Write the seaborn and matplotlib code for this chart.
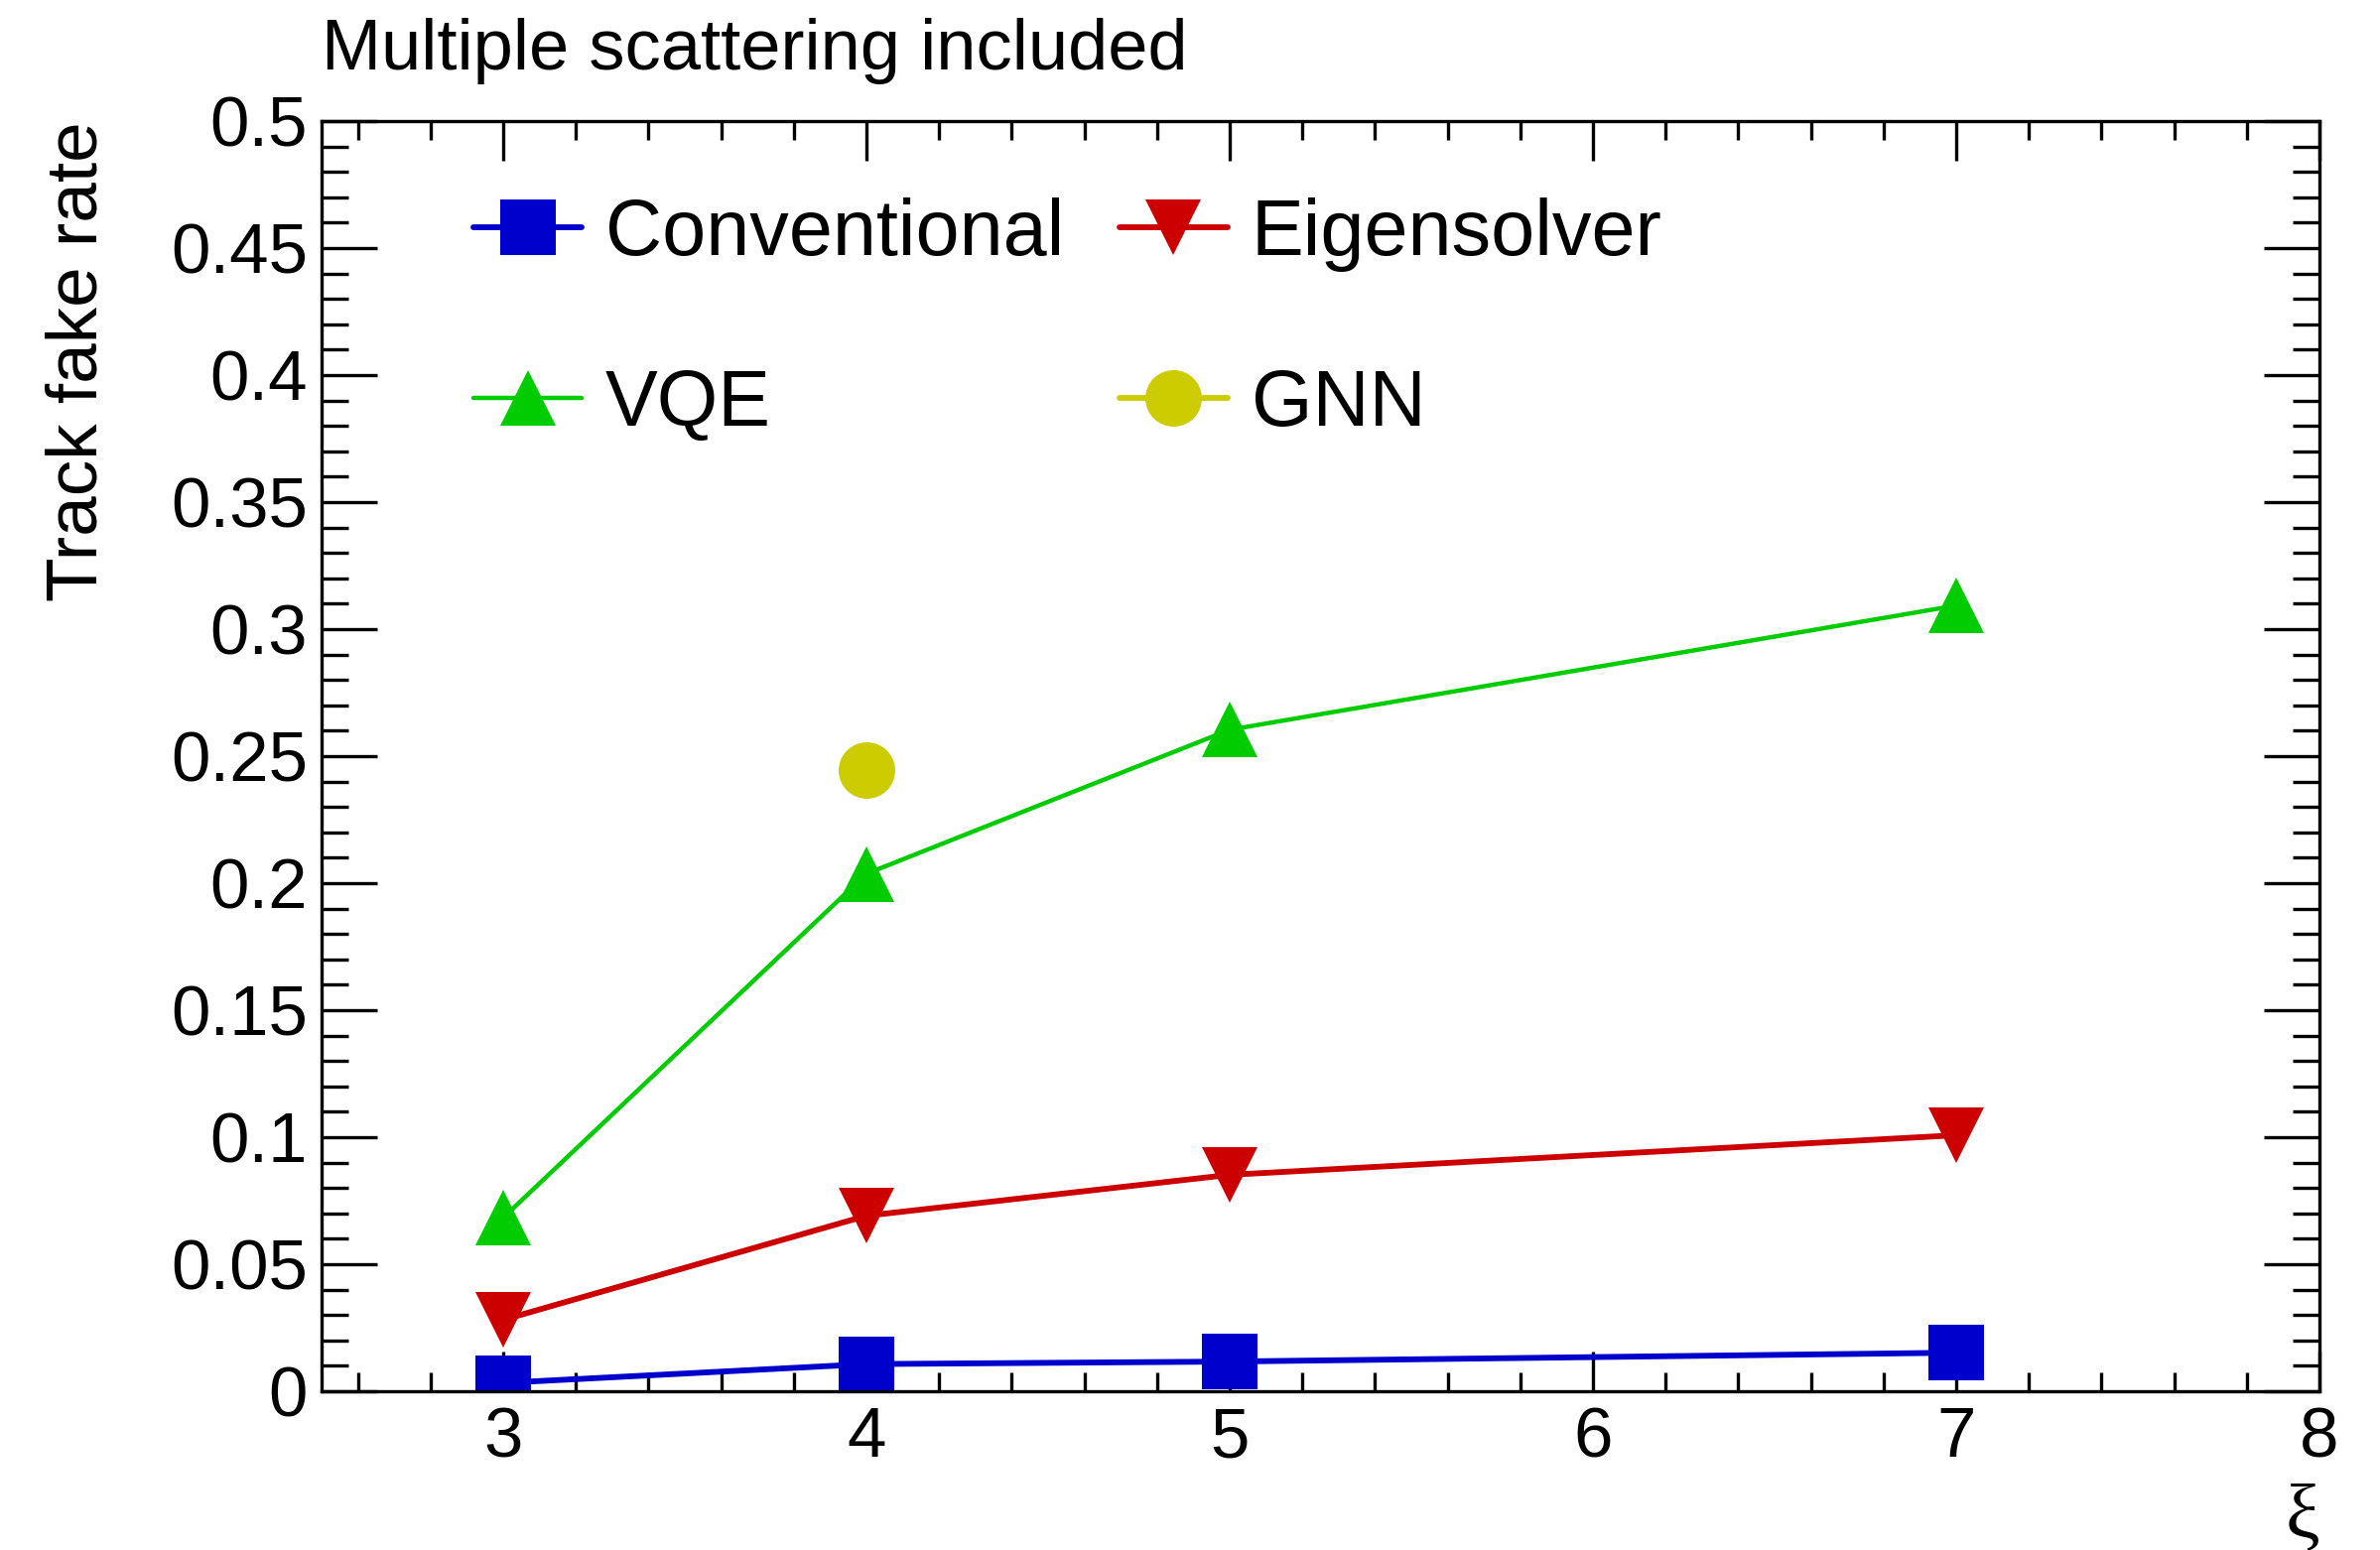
import matplotlib
matplotlib.use("Agg")
import matplotlib.pyplot as plt
import seaborn as sns
import numpy as np
import pandas as pd
from matplotlib.ticker import MultipleLocator, FuncFormatter

# ---- data ----
xi = [3, 4, 5, 7]
conventional = [0.0033, 0.0107, 0.0117, 0.0152]
eigensolver = [0.0281, 0.0691, 0.0852, 0.1008]
vqe = [0.0683, 0.2037, 0.2604, 0.3093]
gnn_xi = [4]
gnn = [0.2447]

title_text = "Multiple scattering included"
ylabel_text = "Track fake rate"
xlabel_text = "ξ"

sns.set_theme(style="ticks", rc={
    "axes.edgecolor": "black", "xtick.color": "black", "ytick.color": "black",
    "text.color": "black", "axes.labelcolor": "black",
})
plt.rcParams['font.family'] = ['Liberation Sans', 'DejaVu Sans']

fig = plt.figure(figsize=(23.98, 15.62), dpi=100)
ax = fig.add_axes([0.1351, 0.1024, 0.9746 - 0.1351, 0.9219 - 0.1024])

series = [
    ("Conventional", xi, conventional, "#0000CC", "s", 4.2, 40),
    ("Eigensolver", xi, eigensolver, "#CC0000", "v", 4.2, 41),
    ("VQE", xi, vqe, "#00CC00", "^", 3.2, 41),
    ("GNN", gnn_xi, gnn, "#CCCC00", "o", 4.2, 41),
]
for name, x, y, c, m, lw, ms in series:
    sns.lineplot(x=x, y=y, ax=ax, color=c, marker=m, markersize=ms,
                 linewidth=lw, markeredgewidth=0, label=name,
                 errorbar=None, legend=False)

ax.set_xlim(2.5, 8)
ax.set_ylim(0, 0.5)
ax.xaxis.set_major_locator(MultipleLocator(1))
ax.xaxis.set_minor_locator(MultipleLocator(0.2))
ax.yaxis.set_major_locator(MultipleLocator(0.05))
ax.yaxis.set_minor_locator(MultipleLocator(0.01))
ax.yaxis.set_major_formatter(FuncFormatter(lambda v, p: f"{v:g}"))
ax.xaxis.set_major_formatter(FuncFormatter(lambda v, p: f"{v:g}"))

for s in ax.spines.values():
    s.set_linewidth(2.4)
    s.set_visible(True)
ax.tick_params(which="both", direction="in", top=True, right=True, width=2.4)
ax.tick_params(axis="x", which="major", length=29, labelsize=51, pad=11)
ax.tick_params(axis="x", which="minor", length=14)
ax.tick_params(axis="y", which="major", length=40, labelsize=51, pad=10)
ax.tick_params(axis="y", which="minor", length=19.5)

ax.set_ylabel(ylabel_text, fontsize=52.5, loc="top")
ax.yaxis.set_label_coords(-0.105, 1.0)
ax.set_xlabel(xlabel_text, fontsize=56, loc="right", family=["Liberation Serif", "DejaVu Serif"])
ax.xaxis.set_label_coords(1.0, -0.072)

fig.text(0.1351, 0.9552, title_text, fontsize=52, ha="left", va="baseline")

handles, labels = ax.get_legend_handles_labels()
order = ["Conventional", "VQE", "Eigensolver", "GNN"]
hl = {l: h for h, l in zip(handles, labels)}
ax.legend([hl[o] for o in order], order, ncol=2, loc="upper left",
          bbox_to_anchor=(0.076, 0.94), frameon=False, fontsize=57,
          handlelength=1.38, handletextpad=0.3, columnspacing=0.70,
          labelspacing=1.23, borderpad=0, borderaxespad=0, numpoints=1)

fig.savefig("out.png", dpi=100)
